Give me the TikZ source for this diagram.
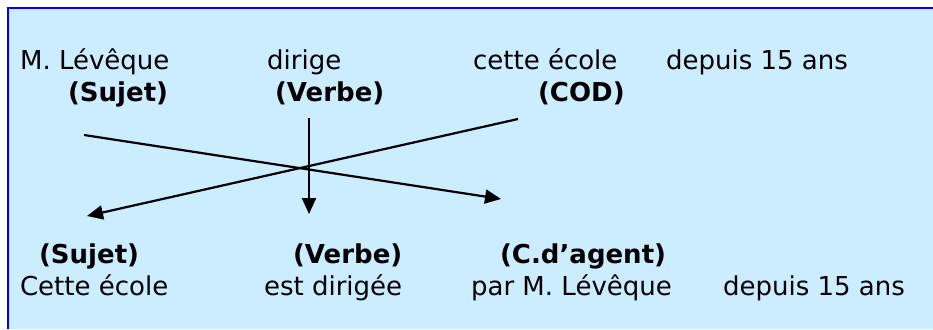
\documentclass[tikz,border=0pt]{standalone}
\usepackage{fontspec}
\setmainfont{DejaVu Sans}
\usetikzlibrary{arrows.meta}
\definecolor{fond}{RGB}{204,236,255}
\definecolor{bord}{RGB}{0,0,255}

\begin{document}
\begin{tikzpicture}[x=1pt,y=-1pt,->,>={Triangle[length=16pt,width=14pt]},line width=2.2pt,
  word/.style={anchor=base west,inner sep=0pt,font=\fontsize{26}{30}\selectfont},
  role/.style={word,font=\fontsize{26}{30}\selectfont\bfseries}]
  \useasboundingbox (0,0) rectangle (933,329);
  \fill[fond] (8,8) rectangle (933,329);
  \draw[-,bord,line width=2.5pt] (8,329) -- (8,8) -- (933,8);
  % phrase active
  \node[word] (ml) at (19,69) {M. Lévêque};
  \node[word] (dirige) at (266,69) {dirige};
  \node[word] (ecole) at (472,69) {cette école};
  \node[word] (depuis) at (665,69) {depuis 15 ans};
  \node[role] (sujet) at (67,101) {(Sujet)};
  \node[role] (verbe) at (274,101) {(Verbe)};
  \node[role] (cod) at (537,101) {(COD)};
  % phrase passive
  \node[role] (sujetP) at (38,263) {(Sujet)};
  \node[role] (verbeP) at (292,263) {(Verbe)};
  \node[role] (agent) at (499,263) {(C.d’agent)};
  \node[word] (ecoleP) at (19,295) {Cette école};
  \node[word] (dirigeeP) at (263,295) {est dirigée};
  \node[word] (mlP) at (470,295) {par M. Lévêque};
  \node[word] (depuisP) at (722,295) {depuis 15 ans};
  \coordinate (a1) at (84,135);
  \coordinate (b1) at (501,199);
  \coordinate (a2) at (518,119);
  \coordinate (b2) at (87,216);
  \coordinate (a3) at (309,118);
  \coordinate (b3) at (309,214);
  \path (a1) edge (b1)
    (a2) edge (b2)
    (a3) edge (b3);
\end{tikzpicture}
\end{document}
